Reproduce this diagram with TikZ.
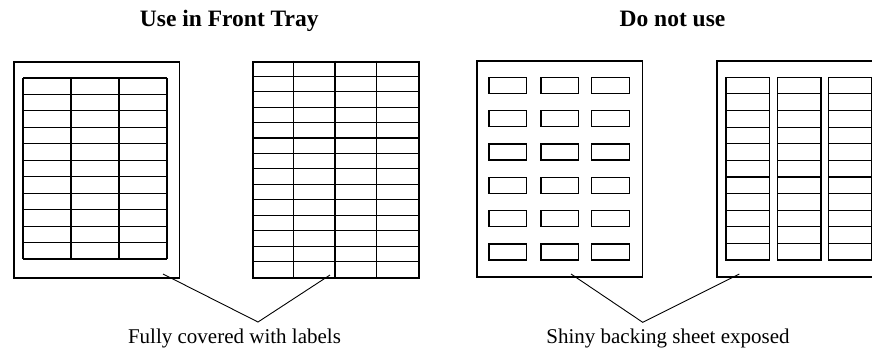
\documentclass[tikz,border=0pt]{standalone}
\usepackage{fontspec}
\setmainfont{Liberation Serif}

\begin{document}
\begin{tikzpicture}[x=1pt,y=-1pt,line join=miter]
\tikzstyle{sheet}=[draw=black,line width=1.8pt,inner sep=0pt,minimum width=165.5pt,minimum height=216.3pt,anchor=north west]
\tikzstyle{rule}=[draw=black,line width=1.1pt]
\tikzstyle{tag}=[draw=black,line width=1.5pt]
\tikzstyle{heading}=[font=\fontsize{23.5}{26}\selectfont\bfseries,anchor=base,inner sep=0pt]
\tikzstyle{caption}=[font=\fontsize{21}{24}\selectfont,anchor=base,inner sep=0pt]
\useasboundingbox (0,0) rectangle (872,349);
\clip (0,0) rectangle (872,349);

\node[heading] (T1) at (229.3,26.7) {Use in Front Tray};
\node[heading] (T2) at (672.5,26.7) {Do not use};

% sheet 1: 3 x 11 with margin
\node[sheet] (S1) at (13,60.7) {};
\foreach \r in {0,...,11}
  \draw[rule] (23,{78+\r*16.45}) -- (167,{78+\r*16.45});
\foreach \c in {23,71,119,167}
  \draw[rule] (\c,78) -- (\c,259);

% sheet 2: 4 x 14, edge to edge
\node[sheet] (S2) at (252.3,60.7) {};
\foreach \r in {1,...,13}
  \draw[rule] (252.3,{60.7+\r*15.45}) -- (417.7,{60.7+\r*15.45});
\foreach \c in {293.6,335,376.4}
  \draw[rule] (\c,60.7) -- (\c,276.9);

% sheet 3: 3 x 6 separate labels
\node[sheet] (S3) at (476,60) {};
\foreach \c in {489,541,591.7}
  \foreach \r in {0,...,5}
    \draw[tag] (\c,{77.3+\r*33.33}) rectangle ++(37.7,16);

% sheet 4: 3 strips
\node[sheet] (S4) at (715.7,60) {};
\foreach \c in {726,777.7,828.3}{
  \draw[tag] (\c,77.3) rectangle ++(43.3,182.7);
  \foreach \r in {1,...,10}
    \draw[rule] (\c,{77.3+\r*16.61}) -- ++(43.3,0);
}

\node[caption] (C1) at (234.5,343.3) {Fully covered with labels};
\node[caption] (C2) at (668,343.3) {Shiny backing sheet exposed};

\coordinate (a1) at (163,274);
\coordinate (v1) at (258,322);
\coordinate (b1) at (330,275);
\coordinate (a2) at (571,274);
\coordinate (v2) at (642.7,322.3);
\coordinate (b2) at (739.3,274);
\draw[line width=0.9pt] (a1) -- (v1) -- (b1);
\draw[line width=0.9pt] (a2) -- (v2) -- (b2);
\end{tikzpicture}
\end{document}
